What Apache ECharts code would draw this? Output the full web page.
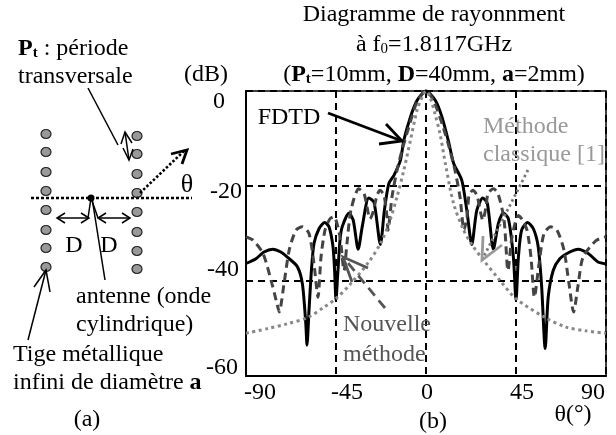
<!DOCTYPE html>
<html><head><meta charset="utf-8">
<script src="https://cdn.jsdelivr.net/npm/echarts@6/dist/echarts.min.js"></script>
<style>html,body{margin:0;padding:0;background:#fff}#c{width:616px;height:435px}</style>
</head><body><div id="c"></div>
<script>
const fdtd=[[-90,-36.3],[-85,-35.3],[-81,-33.9],[-76.7,-33.3],[-72.6,-33.9],[-68.4,-35.3],[-64.3,-37],[-61.8,-40.6],[-60.1,-49],[-59.5,-53.5],[-58.5,-46.2],[-57.3,-37.8],[-56,-32.1],[-53.5,-29],[-50.7,-27.7],[-48.5,-28.6],[-46.5,-32.8],[-45.7,-37.8],[-45,-44],[-44.2,-39],[-43,-31.4],[-41.9,-28.6],[-38.5,-25.7],[-36.4,-27.2],[-33.9,-33.3],[-31.9,-28.6],[-28.6,-22.5],[-26,-23.4],[-22.8,-32.3],[-20.8,-25.1],[-18.6,-19.5],[-16.1,-17.8],[-12.8,-14.6],[-11.1,-10.4],[-7.8,-5.5],[-4.5,-2],[0,0],[4.7,-2],[8,-5.5],[11.3,-10.7],[13.8,-15.2],[17.9,-18.8],[20.4,-25.1],[22.9,-32.3],[25.4,-25.1],[28.4,-22.5],[30.7,-23.7],[33.7,-33.3],[36.2,-27.9],[38.7,-25.7],[41.2,-26.9],[43.7,-35],[45,-44],[46.2,-35],[47.8,-29.3],[50.8,-27.7],[53.7,-29],[56.1,-32.8],[57.8,-41],[59.6,-54.2],[61.1,-43.4],[63.6,-37.8],[66.9,-35.3],[71.9,-33.9],[76.1,-33.3],[81.1,-34.2],[86,-36],[90,-36.4]];
const nouvelle=[[-90,-30.7],[-86.5,-31.4],[-81.5,-34.2],[-77,-40.6],[-74.5,-44.8],[-73.4,-46.5],[-71,-40.6],[-68.4,-33.5],[-65,-29.3],[-61.8,-28.6],[-58.5,-30],[-56,-36.4],[-54,-43.4],[-52.5,-35],[-50.5,-29.3],[-48,-26.9],[-46,-26.5],[-43,-30.7],[-41,-37.8],[-39.5,-32],[-37.5,-25],[-33.6,-20.6],[-31,-21.6],[-29.5,-24.4],[-28,-26.9],[-26.5,-25.5],[-24.5,-22],[-23,-20.9],[-21,-22],[-19.5,-26.5],[-19,-29.3],[-17,-22.3],[-14.5,-16.7],[-12,-12.5],[-8.6,-7.6],[-4.5,-2.3],[0,0],[3.8,-2],[8.6,-7.6],[12,-12.5],[14.5,-16.7],[17,-22.3],[19,-29.3],[20.5,-26.5],[21.5,-22],[23.4,-20.9],[25.5,-22],[27.5,-26],[28.4,-27.2],[30,-24.4],[31,-21.6],[33.7,-20.6],[36,-21.6],[39,-27],[41,-37.8],[43,-30.7],[46.2,-26.2],[48,-27],[50.5,-29.3],[52.5,-35],[54.2,-43.4],[56.5,-36.4],[59,-30],[62.4,-28.6],[65.5,-29.3],[69,-33.5],[71.5,-40.6],[73.8,-46.5],[76,-41],[78.5,-35],[85,-31.5],[90,-30.7]];
const classique=[[-90,-51],[-79,-50],[-69.3,-49],[-59.3,-47.7],[-51,-45.5],[-45,-43.7],[-37.7,-40.6],[-28.6,-36],[-22.8,-32.1],[-18.6,-28],[-14.5,-22.3],[-11.1,-16.7],[-7.8,-10.4],[-4.5,-4.1],[-2,-1.3],[0,0],[2,-1.3],[4.5,-4.8],[7,-9],[10,-16],[13.8,-23.7],[18.8,-29.3],[22.9,-32.3],[28.7,-35.6],[37,-39.9],[45,-43.7],[59.6,-47.7],[70,-49.7],[80,-50.5],[90,-51]];
const xTicks=["-90","-45","0","45","90"];
const xTickPos=[[260,393],[347,393],[427,393],[522,393],[593,393]];
const yTicks=["0","-20","-40","-60"];
const yTickPos=[[225,102],[242,192],[239,270],[238,368]];
const F='"Liberation Serif","Times New Roman",serif', FS=24;
const dotL=[134,152,172,191,210,230,248,267], dotR=[136,154,174,193,212,232,251,269];
function T(text,x,y,o){o=o||{};return {type:'text',z:20,x:x,y:y,style:Object.assign({text:text,fontFamily:F,fontSize:FS,fill:'#000',textAlign:'left',textVerticalAlign:'middle'},o)};}
function L(pts,o){o=o||{};return {type:'polyline',z:15,shape:{points:pts},style:Object.assign({stroke:'#000',lineWidth:1.5,fill:null},o)};}
const rich={b:{fontFamily:F,fontSize:FS,fontWeight:'bold'},s:{fontFamily:F,fontSize:15,fontWeight:'bold',verticalAlign:'bottom'},n:{fontFamily:F,fontSize:FS},u:{fontFamily:F,fontSize:15,verticalAlign:'bottom'}};
const g=[];
xTicks.forEach((t,i)=>g.push(T(t,xTickPos[i][0],xTickPos[i][1],{textAlign:'center'})));
yTicks.forEach((t,i)=>g.push(T(t,yTickPos[i][0],yTickPos[i][1],{textAlign:'right'})));
g.push(T('Diagramme de rayonnment',434,15,{textAlign:'center'}));
g.push(T('{n|à f}{u|0}{n|=1.8117GHz}',434,45,{textAlign:'center',rich:rich}));
g.push(T('{n|(}{b|P}{s|t}{n|=10mm, }{b|D}{n|=40mm, }{b|a}{n|=2mm)}',434,75,{textAlign:'center',rich:rich}));
g.push(T('(dB)',184,75));
g.push(T('θ(°)',573,415,{textAlign:'center'}));
g.push(T('(b)',433,422,{textAlign:'center'}));
g.push(T('(a)',87,420,{textAlign:'center'}));
g.push(T('{b|P}{s|t}{n| : période}',18,49,{rich:rich}));
g.push(T('transversale',18,77));
g.push(T('antenne (onde',76,297));
g.push(T('cylindrique)',76,325));
g.push(T('Tige métallique',13,355));
g.push(T('{n|infini de diamètre }{b|a}',13,383,{rich:rich}));
g.push(T('D',74,246,{textAlign:'center'}));
g.push(T('D',109,246,{textAlign:'center'}));
g.push(T('θ',187,185,{textAlign:'center',fontSize:26}));
g.push(T('FDTD',289,118,{textAlign:'center'}));
g.push(T('Méthode',483,127,{fill:'#999'}));
g.push(T('classique [1]',483,155,{fill:'#999'}));
g.push(T('Nouvelle',343,325,{fill:'#555'}));
g.push(T('méthode',343,355,{fill:'#555'}));
dotL.forEach(y=>g.push({type:'ellipse',z:12,shape:{cx:46,cy:y,rx:5,ry:4.5},style:{fill:'#999',stroke:'#222',lineWidth:1.2}}));
dotR.forEach(y=>g.push({type:'ellipse',z:12,shape:{cx:137,cy:y,rx:5,ry:4.5},style:{fill:'#999',stroke:'#222',lineWidth:1.2}}));
g.push(L([[31,198],[192,198]],{lineWidth:2.6,lineDash:[3,2]}));
g.push({type:'circle',z:16,shape:{cx:91,cy:198,r:3.5},style:{fill:'#000'}});
g.push(L([[140,193],[184,151]],{lineWidth:2.6,lineDash:[2.5,2]}));
g.push(L([[171,154],[187,150],[182,164]],{lineWidth:2.8}));
g.push(L([[89,218],[57,218]]));g.push(L([[65,213],[57,218],[65,223]]));g.push(L([[81,213],[89,218],[81,223]]));
g.push(L([[98,218],[130,218]]));g.push(L([[106,213],[98,218],[106,223]]));g.push(L([[122,213],[130,218],[122,223]]));
g.push(L([[91,198],[88,218]]));g.push(L([[91,198],[98,218]]));g.push(L([[92,198],[105,280]]));
g.push(L([[88,88],[118,145]]));
g.push(L([[125,132],[129,160]]));g.push(L([[121,144],[125,132],[132,143]]));g.push(L([[123,148],[129,160],[133,149]]));
g.push(L([[28,340],[46,270]]));g.push(L([[34,287],[46,270],[50,292]]));
g.push(L([[328,113],[402,141]],{lineWidth:2.8}));g.push(L([[386,124],[402,141],[379,144]],{lineWidth:2.8}));
g.push(L([[528,170],[482,260]],{stroke:'#777',lineWidth:2.8,lineDash:[2.5,3]}));g.push(L([[483,236],[482,260],[502,245]],{stroke:'#999',lineWidth:2.8}));
g.push(L([[385,308],[343,257]],{stroke:'#555',lineWidth:2.8,lineDash:[10,6]}));g.push(L([[368,268],[343,257],[352,282]],{stroke:'#555',lineWidth:2.8}));
const chart=echarts.init(document.getElementById('c'),null,{renderer:'canvas'});
const split={show:true,lineStyle:{color:'#000',width:2,type:[7,5]}};
chart.setOption({animation:false,backgroundColor:'#fff',
 grid:{left:246,right:10,top:91,bottom:59,show:true,borderColor:'#000',borderWidth:1.5,backgroundColor:'transparent'},
 xAxis:{type:'value',min:-90,max:90,interval:45,axisLabel:{show:false},axisTick:{show:false},axisLine:{show:true,onZero:false,lineStyle:{color:'#000',width:2}},splitLine:split},
 yAxis:{type:'value',min:-60,max:0,interval:20,axisLabel:{show:false},axisTick:{show:false},axisLine:{show:true,onZero:false,lineStyle:{color:'#000',width:2}},splitLine:split},
 series:[
  {name:'FDTD',type:'line',data:fdtd,smooth:0.25,showSymbol:false,clip:false,lineStyle:{color:'#000',width:3}},
  {name:'Nouvelle méthode',type:'line',data:nouvelle,smooth:0.25,showSymbol:false,clip:false,lineStyle:{color:'#444',width:3,type:[8,5]}},
  {name:'Méthode classique [1]',type:'line',data:classique,smooth:0.3,showSymbol:false,clip:false,lineStyle:{color:'#888',width:3,type:[3,3.5]}}
 ],
 graphic:{elements:g}
});
</script></body></html>
